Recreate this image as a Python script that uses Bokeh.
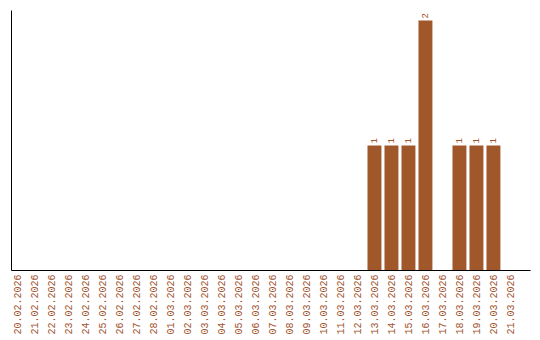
import math
from bokeh.plotting import figure
from bokeh.models import ColumnDataSource, Range1d, FixedTicker, LabelSet
from bokeh.core.properties import value
from bokeh.embed import file_html
from bokeh.resources import INLINE

dates = ["20.02.2026", "21.02.2026", "22.02.2026", "23.02.2026", "24.02.2026",
         "25.02.2026", "26.02.2026", "27.02.2026", "28.02.2026", "01.03.2026",
         "02.03.2026", "03.03.2026", "04.03.2026", "05.03.2026", "06.03.2026",
         "07.03.2026", "08.03.2026", "09.03.2026", "10.03.2026", "11.03.2026",
         "12.03.2026", "13.03.2026", "14.03.2026", "15.03.2026", "16.03.2026",
         "17.03.2026", "18.03.2026", "19.03.2026", "20.03.2026", "21.03.2026"]
counts = [0, 0, 0, 0, 0, 0, 0, 0, 0, 0,
          0, 0, 0, 0, 0, 0, 0, 0, 0, 0,
          0, 1, 1, 1, 2, 0, 1, 1, 1, 0]

BAR = "#A0582A"
TXT = "#A0522D"
FONT = "Liberation Mono"

xs = list(range(len(dates)))
src = ColumnDataSource(dict(x=xs, y=counts))
nz = [i for i, c in enumerate(counts) if c > 0]
lsrc = ColumnDataSource(dict(x=[xs[i] for i in nz], y=[counts[i] for i in nz],
                             lab=[str(counts[i]) for i in nz]))

p = figure(width=540, height=340, output_backend="svg", toolbar_location=None,
           x_range=Range1d(-0.353, 30.18), y_range=Range1d(0, 2.08),
           min_border_left=11, min_border_right=10, min_border_top=10,
           min_border_bottom=70)
p.outline_line_color = None
p.grid.visible = False
p.background_fill_color = "white"
p.border_fill_color = "white"

p.vbar(x="x", top="y", width=0.82, source=src, fill_color=BAR, line_color=None)

labels = LabelSet(x="x", y="y", text="lab", source=lsrc, angle=math.pi / 2,
                  text_align="left", text_baseline="middle", y_offset=2,
                  text_font=value(FONT), text_font_size="9px", text_color=TXT)
p.add_layout(labels)

xa = p.xaxis[0]
xa.ticker = FixedTicker(ticks=xs)
xa.major_label_overrides = {i: d for i, d in enumerate(dates)}
xa.major_label_orientation = math.pi / 2
xa.major_label_text_font = FONT
xa.major_label_text_font_size = "10px"
xa.major_label_text_color = TXT
xa.major_tick_out = 0
xa.major_tick_in = 0
xa.minor_tick_out = 0
xa.minor_tick_in = 0
xa.axis_line_color = "black"
xa.axis_line_width = 1
xa.major_label_standoff = 4

ya = p.yaxis[0]
ya.ticker = FixedTicker(ticks=[])
ya.major_tick_out = 0
ya.major_tick_in = 0
ya.minor_tick_out = 0
ya.minor_tick_in = 0
ya.axis_line_color = "black"
ya.major_label_standoff = 0

open("out.html", "w").write(file_html(p, INLINE))
